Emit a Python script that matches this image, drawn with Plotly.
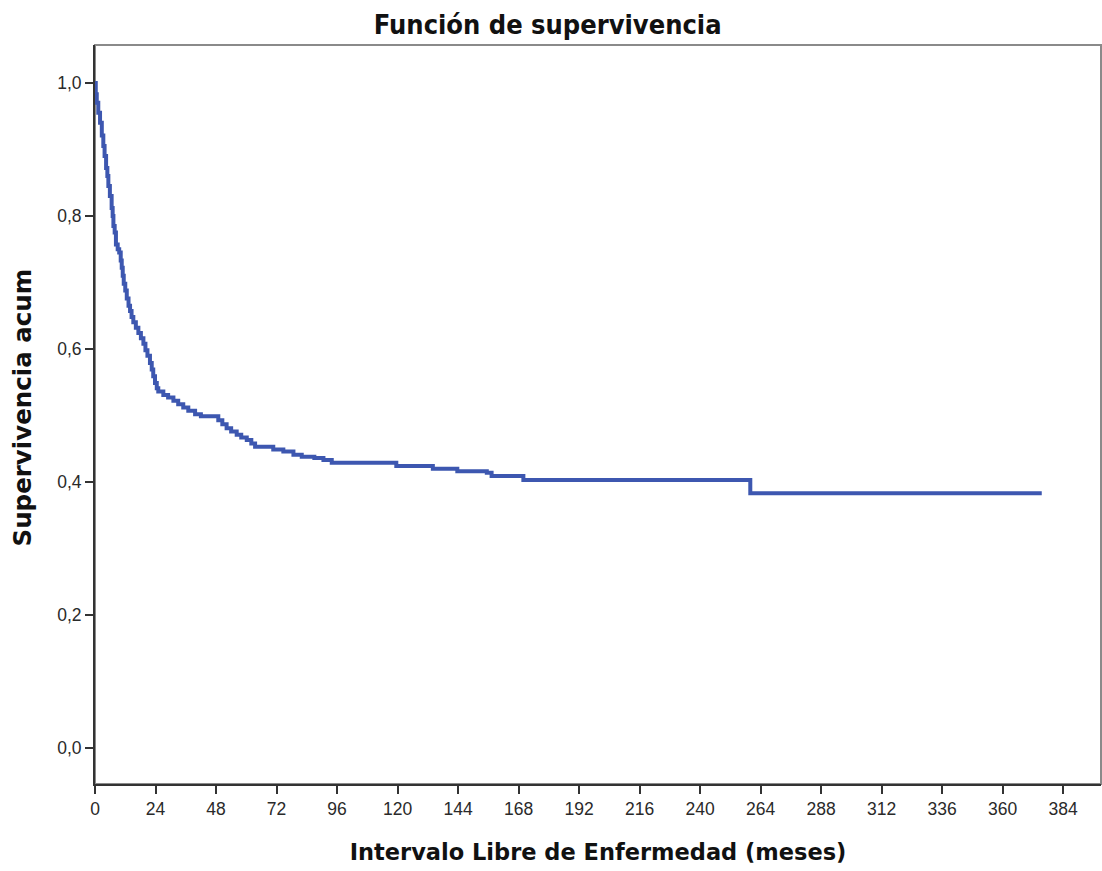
import plotly.graph_objects as go

# Kaplan-Meier step data
time_months = [0, 0.3, 0.7, 1.3, 2.0, 2.7, 3.3, 3.8, 4.4, 4.9, 5.3, 5.9, 6.6, 7.0, 7.3, 7.8,
               8.3, 9.0, 9.6, 10.2, 10.6, 11.0, 11.4, 12.0, 12.6, 13.3, 13.9, 14.5, 15.2,
               16.2, 17.2, 18.2, 19.2, 20.0, 20.8, 21.8, 22.5, 23.1, 23.8, 24.5, 25.1, 27.1,
               29.0, 31.1, 33.0, 35.0, 37.0, 39.7, 42.0, 48.9, 50.5, 52.2, 54.0, 56.2, 58.0,
               60.2, 62.0, 63.5, 70.7, 74.7, 78.7, 82.0, 87.0, 90.6, 93.9, 119.5, 134.0,
               143.7, 155.4, 157.3, 169.9, 259.9, 375.5]
survival = [1.0, 0.983, 0.970, 0.955, 0.940, 0.921, 0.905, 0.890, 0.872, 0.860, 0.845, 0.830,
            0.812, 0.800, 0.785, 0.775, 0.757, 0.750, 0.745, 0.733, 0.722, 0.710, 0.698,
            0.688, 0.676, 0.665, 0.657, 0.648, 0.640, 0.632, 0.624, 0.616, 0.608, 0.598,
            0.590, 0.579, 0.569, 0.559, 0.549, 0.541, 0.536, 0.531, 0.527, 0.522, 0.517,
            0.512, 0.507, 0.502, 0.499, 0.493, 0.487, 0.481, 0.476, 0.471, 0.467, 0.463,
            0.458, 0.453, 0.449, 0.446, 0.441, 0.438, 0.436, 0.433, 0.429, 0.424, 0.420,
            0.416, 0.414, 0.409, 0.403, 0.383, 0.383]

x_ticks = list(range(0, 385, 24))
y_ticks = [0.0, 0.2, 0.4, 0.6, 0.8, 1.0]
y_ticklabels = ["0,0", "0,2", "0,4", "0,6", "0,8", "1,0"]

title_text = "Función de supervivencia"
x_title = "Intervalo Libre de Enfermedad (meses)"
y_title = "Supervivencia acum"

fig = go.Figure()
fig.add_trace(go.Scatter(
    x=time_months, y=survival, mode="lines", line_shape="hv",
    line=dict(color="#3d57b0", width=4), showlegend=False, hoverinfo="skip",
))

axis_font = dict(family="Liberation Sans, Arial, sans-serif", size=17.5, color="#2a2a2a")

fig.update_layout(
    width=1102, height=871,
    margin=dict(l=95, r=1, t=45, b=87),
    paper_bgcolor="white", plot_bgcolor="white",
    title=dict(text="<b>" + title_text + "</b>", x=0.497, xanchor="center", y=0.972, yanchor="middle",
               font=dict(family="DejaVu Sans Condensed, sans-serif",
                         size=27, color="#111111")),
    shapes=[dict(type="rect", xref="paper", yref="paper", x0=0, x1=1, y0=0, y1=1,
                 line=dict(color="#8a8a8a", width=2), layer="below")],
    annotations=[dict(text="<b>" + y_title + "</b>", xref="paper", yref="paper",
                      x=0, xshift=-73, xanchor="center", y=0.5095, yanchor="middle",
                      textangle=-90, showarrow=False,
                      font=dict(family="DejaVu Sans, Verdana, sans-serif", size=24.5,
                                color="#111111"))],
)
fig.update_xaxes(
    range=[0, 399], tickvals=x_ticks, ticks="outside", ticklen=8, tickwidth=2,
    tickcolor="#333333", showline=True, linecolor="#333333", linewidth=2,
    showgrid=False, zeroline=False, tickfont=axis_font,
    title=dict(text="<b>" + x_title + "</b>",
               font=dict(family="DejaVu Sans, Verdana, sans-serif", size=22.5, color="#111111"),
               standoff=26),
)
fig.update_yaxes(
    range=[-0.054, 1.057], tickvals=y_ticks, ticktext=y_ticklabels, ticks="outside",
    ticklen=8, tickwidth=2, tickcolor="#333333", showline=True, linecolor="#333333",
    linewidth=2, showgrid=False, zeroline=False, tickfont=axis_font,
)

fig.write_html("out.html")
